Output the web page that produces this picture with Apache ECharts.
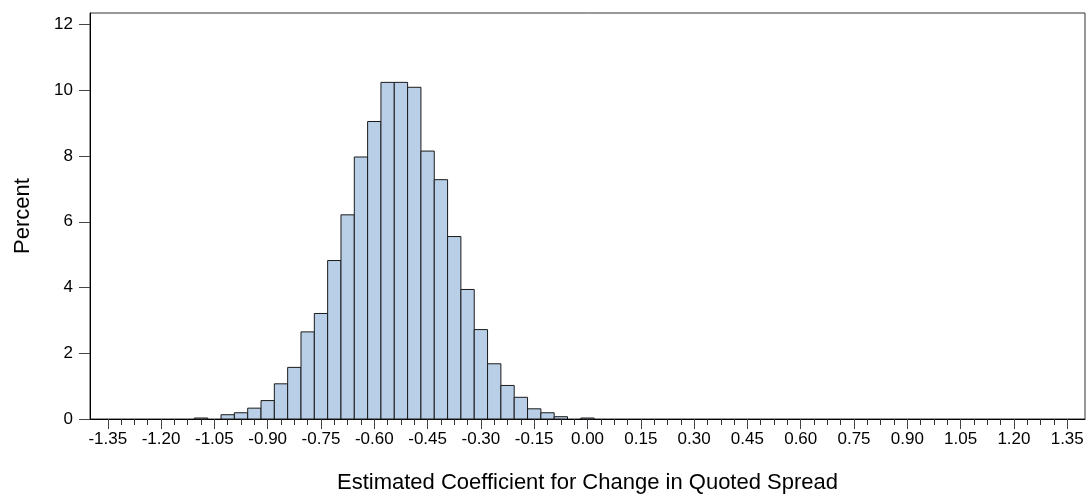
<!DOCTYPE html>
<html>
<head>
<meta charset="utf-8">
<script src="https://cdn.jsdelivr.net/npm/echarts@6/dist/echarts.min.js"></script>
<style>html,body{margin:0;padding:0;background:#fff}#c{width:1087px;height:499px}</style>
</head>
<body>
<div id="c"></div>
<script>
// Bin midpoints (bin width 0.0375)
const binWidth = 0.0375;
const bins = [-1.35,-1.3125,-1.275,-1.2375,-1.2,-1.1625,-1.125,-1.0875,-1.05,-1.0125,-0.975,-0.9375,-0.9,-0.8625,-0.825,-0.7875,-0.75,-0.7125,-0.675,-0.6375,-0.6,-0.5625,-0.525,-0.4875,-0.45,-0.4125,-0.375,-0.3375,-0.3,-0.2625,-0.225,-0.1875,-0.15,-0.1125,-0.075,-0.0375,0,0.0375,0.075,0.1125,0.15,0.1875,0.225,0.2625,0.3,0.3375,0.375,0.4125,0.45,0.4875,0.525,0.5625,0.6,0.6375,0.675,0.7125,0.75,0.7875,0.825,0.8625,0.9,0.9375,0.975,1.0125,1.05,1.0875,1.125,1.1625,1.2,1.2375,1.275,1.3125,1.35];
// Percent per bin
const percent = [0,0,0,0,0,0,0,0.03,0,0.13,0.19,0.33,0.56,1.07,1.57,2.65,3.21,4.82,6.21,7.97,9.05,10.24,10.24,10.09,8.15,7.28,5.55,3.94,2.72,1.68,1.02,0.66,0.31,0.19,0.07,0,0.03,0,0,0,0,0,0,0,0,0,0,0,0,0,0,0,0,0,0,0,0,0,0,0,0,0,0,0,0,0,0,0,0,0,0,0,0];
// Major tick labels on x
const xMajor = [-1.35,-1.2,-1.05,-0.9,-0.75,-0.6,-0.45,-0.3,-0.15,0,0.15,0.3,0.45,0.6,0.75,0.9,1.05,1.2,1.35];
const xMinor = bins.filter(b => !xMajor.some(m => Math.abs(m - b) < 1e-9));
const yTicks = [0,2,4,6,8,10,12];

const font = '"Liberation Sans", Arial, sans-serif';
const data = bins.map((b,i) => [b, percent[i]]).filter(d => d[1] > 0);

const chart = echarts.init(document.getElementById('c'), null, {renderer:'canvas'});
chart.setOption({
  animation: false,
  grid: {left: 90, top: 13, right: 2, bottom: 78, show: true, borderColor: '#333', borderWidth: 1, containLabel: false},
  xAxis: [{
    type: 'value', min: -1.4, max: 1.4,
    splitLine: {show: false},
    axisLine: {show: true, onZero: false, lineStyle: {color: '#000', width: 1}},
    axisTick: {show: true, customValues: xMajor, length: 10, lineStyle: {color: '#444'}},
    axisLabel: {customValues: xMajor, margin: 12, color: '#000', fontSize: 17, fontFamily: font,
      formatter: v => v.toFixed(2)},
    name: 'Estimated Coefficient for Change in Quoted Spread',
    nameLocation: 'middle', nameGap: 53,
    nameTextStyle: {color: '#000', fontSize: 22, fontFamily: font}
  },{
    type: 'value', min: -1.4, max: 1.4, position: 'bottom',
    splitLine: {show: false},
    axisLine: {show: false, onZero: false},
    axisTick: {show: true, customValues: xMinor, length: 6, lineStyle: {color: '#333'}},
    axisLabel: {show: false}
  }],
  yAxis: {
    type: 'value', min: 0, max: 12.35, position: 'left',
    splitLine: {show: false},
    axisLine: {show: true, onZero: false, lineStyle: {color: '#000', width: 1}},
    axisTick: {show: true, customValues: yTicks, length: 11, lineStyle: {color: '#444'}},
    axisLabel: {customValues: yTicks, margin: 17, color: '#000', fontSize: 17, fontFamily: font},
    name: 'Percent', nameLocation: 'middle', nameGap: 56, nameRotate: 90,
    nameTextStyle: {color: '#000', fontSize: 22, fontFamily: font}
  },
  series: [{
    type: 'custom',
    coordinateSystem: 'cartesian2d',
    xAxisIndex: 0, yAxisIndex: 0,
    data: data,
    renderItem: function(params, api) {
      const x = api.value(0), y = api.value(1);
      const p0 = api.coord([x - binWidth/2, y]);
      const p1 = api.coord([x + binWidth/2, 0]);
      return {
        type: 'rect',
        shape: {x: p0[0], y: p0[1], width: p1[0] - p0[0], height: p1[1] - p0[1]},
        style: {fill: '#b9cfe7', stroke: '#1a1a1a', lineWidth: 1}
      };
    }
  }]
});
</script>
</body>
</html>
